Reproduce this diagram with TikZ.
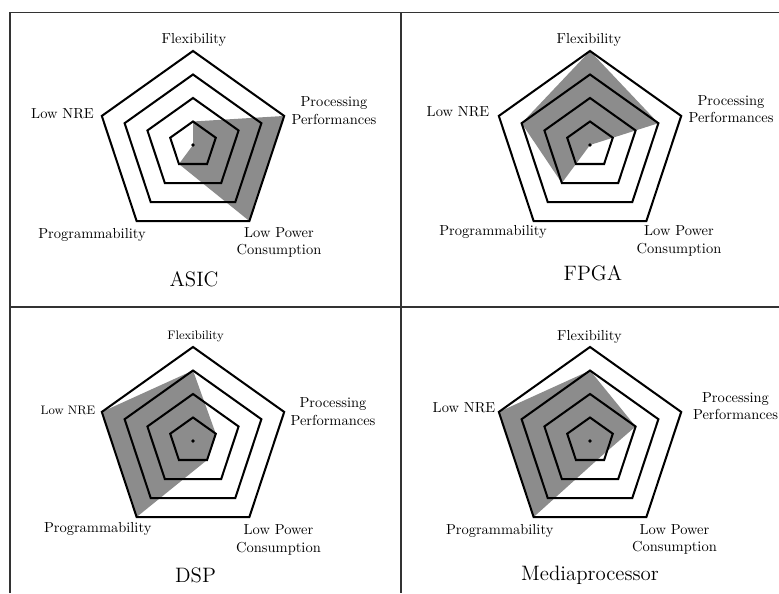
\documentclass[tikz,border=0pt]{standalone}
\usepackage{amsmath}
\usepackage{tikz}
\usetikzlibrary{calc}

\begin{document}
\begin{tikzpicture}[x=0.69pt,y=0.69pt]
  \tikzstyle{ring}=[line width=1.4pt,line join=miter]
  \tikzstyle{score}=[fill=black!45,draw=none]
  \tikzstyle{crit}=[inner sep=1pt,align=center]
  \tikzstyle{smallcrit}=[crit,font=\fontsize{8.5}{10}\selectfont]
  \tikzstyle{title}=[inner sep=1pt,font=\fontsize{14.4}{17}\selectfont]
  \tikzstyle{frame}=[line width=1.3pt,draw=black!80]
  \def\R{94}
  \useasboundingbox (0,0) rectangle (779,593);
  % table lines
  \coordinate (tl) at (10,580.5);
  \coordinate (tr) at (779,580.5);
  \coordinate (tm) at (401,580.5);
  \coordinate (bl) at (10,0);
  \coordinate (bm) at (401,0);
  \coordinate (ml) at (10,286);
  \coordinate (mr) at (779,286);
  \draw[frame] (bl) -- (tl) -- (tr);
  \draw[frame] (tm) -- (bm);
  \draw[frame] (ml) -- (mr);
  % radar charts: centre / flexibility / processing / low power / programmability / low NRE
  \foreach \cx/\cy/\fl/\pp/\lp/\pr/\nr in {193/448/0.25/1/1/0.25/0, 590/448/1/0.75/0/0.5/0.75, 193/152/0.75/0.25/0.25/1/1, 590/152/0.75/0.5/0.2/1/1}{
    \begin{scope}[shift={(\cx,\cy)},xscale=1.02]
      \fill[score] (90:{\fl*\R}) -- (18:{\pp*\R}) -- (-54:{\lp*\R}) -- (-126:{\pr*\R}) -- (162:{\nr*\R}) -- cycle;
      \foreach \r in {0.25,0.5,0.75,1}
        \draw[ring] (90:{\r*\R}) -- (18:{\r*\R}) -- (-54:{\r*\R}) -- (-126:{\r*\R}) -- (162:{\r*\R}) -- cycle;
      \fill (0,0) circle (1.8);
    \end{scope}
  }
  % ASIC
  \node[crit] (asicfl) at (194,553) {Flexibility};
  \node[crit] (asicnr) at (62.5,479) {Low NRE};
  \node[crit] (asicpp) at (334,482.5) {Processing\\Performances};
  \node[crit] (asicpr) at (92,358) {Programmability};
  \node[crit] (asiclp) at (279,350.5) {Low Power\\Consumption};
  \node[title] (asic) at (194,314) {ASIC};
  % FPGA
  \node[crit] (fpgafl) at (589,553) {Flexibility};
  \node[crit] (fpganr) at (458,481) {Low NRE};
  \node[crit] (fpgapp) at (731,484) {Processing\\Performances};
  \node[crit] (fpgapr) at (493,361) {Programmability};
  \node[crit] (fpgalp) at (679,352) {Low Power\\Consumption};
  \node[title] (fpga) at (593,320) {FPGA};
  % DSP
  \node[smallcrit] (dspfl) at (195.5,256.3) {Flexibility};
  \node[smallcrit] (dspnr) at (68,183) {Low NRE};
  \node[crit] (dsppp) at (333,181.3) {Processing\\Performances};
  \node[crit] (dsppr) at (97.7,64) {Programmability};
  \node[crit] (dsplp) at (278.5,53) {Low Power\\Consumption};
  \node[title] (dsp) at (195.5,18) {DSP};
  % Mediaprocessor
  \node[crit] (mpfl) at (589.5,256.3) {Flexibility};
  \node[crit] (mpnr) at (464,185.7) {Low NRE};
  \node[crit] (mppp) at (735.5,187) {Processing\\Performances};
  \node[crit] (mppr) at (499.7,62.3) {Programmability};
  \node[crit] (mplp) at (674.5,53.5) {Low Power\\Consumption};
  \node[title] (mp) at (590,18) {Mediaprocessor};
\end{tikzpicture}
\end{document}
